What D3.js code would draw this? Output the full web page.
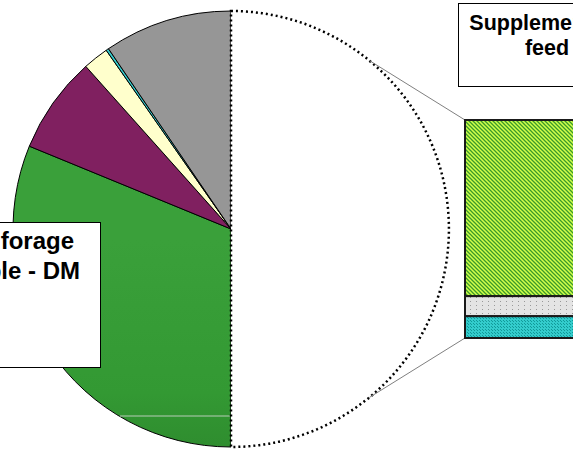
<!DOCTYPE html>
<html>
<head>
<meta charset="utf-8">
<title>Pie of bar</title>
<style>
  body { margin: 0; background: #fff; overflow: hidden; }
  svg { display: block; }
  text { font-family: "Liberation Sans", Arial, sans-serif; font-weight: bold; fill: #000; }
</style>
</head>
<body>
<div id="chart"></div>
<script src="https://cdn.jsdelivr.net/npm/d3@7"></script>
<script>
// pie slices, clockwise from 12 o'clock (percent of total)
var pieNames  = ["Other", "Grass forage", "Silage", "Hay", "Minerals", "Grain"];
var pieValues = [50, 31.2, 7.2, 1.9, 0.2, 9.5];
var pieFills  = ["#ffffff", "url(#greenGrad)", "#802060", "#ffffcc", "#33cccc", "#969696"];

// breakdown of the "Other" slice, top to bottom
var barNames  = ["Supplementary feed", "Straw", "Concentrate"];
var barValues = [40.4, 4.6, 5.0];
var barFills  = ["url(#hatchGreen)", "url(#dotGray)", "url(#dotTeal)"];

var width = 573, height = 450;
var cx = 231, cy = 229, radius = 218;

var svg = d3.select("#chart").append("svg")
    .attr("width", width)
    .attr("height", height);

var defs = svg.append("defs");

var grad = defs.append("linearGradient")
    .attr("id", "greenGrad")
    .attr("gradientUnits", "userSpaceOnUse")
    .attr("x1", 0).attr("y1", cy - radius)
    .attr("x2", 0).attr("y2", cy + radius);
grad.append("stop").attr("offset", "0%").attr("stop-color", "#3aa03a");
grad.append("stop").attr("offset", "35%").attr("stop-color", "#339933");
grad.append("stop").attr("offset", "100%").attr("stop-color", "#1e5a1e");

// green / lime diagonal hatch (downward)
var hatch = defs.append("pattern")
    .attr("id", "hatchGreen")
    .attr("patternUnits", "userSpaceOnUse")
    .attr("width", 4).attr("height", 4);
hatch.append("rect").attr("width", 4).attr("height", 4).attr("fill", "#d4ff4a");
hatch.append("path")
    .attr("d", "M-1,3 L1,5 M0,0 L4,4 M3,-1 L5,1")
    .attr("stroke", "#3a9a2a").attr("stroke-width", 1.3);

// light gray with sparse dots
var dg = defs.append("pattern")
    .attr("id", "dotGray")
    .attr("patternUnits", "userSpaceOnUse")
    .attr("width", 6).attr("height", 4);
dg.append("rect").attr("width", 6).attr("height", 4).attr("fill", "#e4e4e4");
dg.append("rect").attr("x", 2).attr("y", 1).attr("width", 1).attr("height", 1).attr("fill", "#999");

// teal with darker checker
var dt = defs.append("pattern")
    .attr("id", "dotTeal")
    .attr("patternUnits", "userSpaceOnUse")
    .attr("width", 3).attr("height", 3);
dt.append("rect").attr("width", 3).attr("height", 3).attr("fill", "#33cccc");
dt.append("rect").attr("x", 0).attr("y", 0).attr("width", 1).attr("height", 1).attr("fill", "#119999");
dt.append("rect").attr("x", 2).attr("y", 2).attr("width", 1).attr("height", 1).attr("fill", "#119999");

var pie = d3.pie().sort(null).value(function(d){ return d; });
var arcs = pie(pieValues);
var arc = d3.arc().innerRadius(0).outerRadius(radius);

var g = svg.append("g").attr("transform", "translate(" + cx + "," + cy + ")");

// left-hand slices
g.selectAll(".slice")
    .data(arcs.slice(1))
    .enter().append("path")
    .attr("class", "slice")
    .attr("d", arc)
    .attr("fill", function(d, i){ return pieFills[i + 1]; })
    .attr("stroke", "#000")
    .attr("stroke-width", 1)
    .attr("stroke-linejoin", "round");

// faint line across the green slice
var yLine = 416 - cy;
g.append("line")
    .attr("x1", -Math.sqrt(radius * radius - yLine * yLine) + 1)
    .attr("x2", -1)
    .attr("y1", yLine).attr("y2", yLine)
    .attr("stroke", "#b8ccb8").attr("stroke-width", 1);

// "Other" slice, dotted outline
g.append("path")
    .datum(arcs[0])
    .attr("d", arc)
    .attr("fill", "#fff")
    .attr("stroke", "#000")
    .attr("stroke-width", 2.5)
    .attr("stroke-dasharray", "2,3");

// stacked bar
var barX = 465, barW = 160;
var y = d3.scaleLinear()
    .domain([0, d3.sum(barValues)])
    .range([120, 338]);

var cum = 0;
var stack = barValues.map(function(v){ var s = cum; cum += v; return [s, cum]; });

// connector lines
var topAng = 39.4 * Math.PI / 180, botAng = 140.6 * Math.PI / 180;
svg.append("line")
    .attr("x1", cx + radius * Math.sin(topAng)).attr("y1", cy - radius * Math.cos(topAng))
    .attr("x2", barX).attr("y2", y(0))
    .attr("stroke", "#808080").attr("stroke-width", 1);
svg.append("line")
    .attr("x1", cx + radius * Math.sin(botAng)).attr("y1", cy - radius * Math.cos(botAng))
    .attr("x2", barX).attr("y2", y(cum))
    .attr("stroke", "#808080").attr("stroke-width", 1);

svg.selectAll(".seg")
    .data(stack)
    .enter().append("rect")
    .attr("class", "seg")
    .attr("x", barX)
    .attr("y", function(d){ return y(d[0]); })
    .attr("width", barW)
    .attr("height", function(d){ return y(d[1]) - y(d[0]); })
    .attr("fill", function(d, i){ return barFills[i]; })
    .attr("stroke", "#1a1a1a")
    .attr("stroke-width", 2);

// data label boxes
function labelBox(x0, y0, w, h, lines, size, lineGap, firstBase) {
    svg.append("rect")
        .attr("x", x0 + 0.5).attr("y", y0 + 0.5)
        .attr("width", w).attr("height", h)
        .attr("fill", "#fff")
        .attr("stroke", "#000").attr("stroke-width", 1);
    var t = svg.append("text")
        .attr("text-anchor", "middle")
        .style("font-size", size + "px");
    lines.forEach(function(s, i){
        t.append("tspan")
            .attr("x", x0 + w / 2)
            .attr("y", y0 + firstBase + i * lineGap)
            .text(s);
    });
}

labelBox(-100, 222, 200, 145, ["Grass forage", "available - DM"], 24, 30, 27);
labelBox(458, 3, 178, 83, ["Supplementary", "feed"], 21.5, 25, 27);
</script>
</body>
</html>
